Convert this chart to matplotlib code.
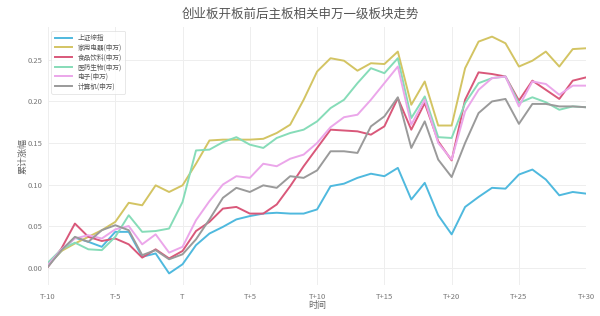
import matplotlib
matplotlib.use("Agg")
import matplotlib.pyplot as plt
import numpy as np

plt.rcParams['font.family'] = ['Noto Sans CJK SC', 'DejaVu Sans']

x_labels = ['T-10', 'T-5', 'T', 'T+5', 'T+10', 'T+15', 'T+20', 'T+25', 'T+30']
days = list(range(-10, 31))

sh_index = [0.003, 0.020, 0.036, 0.031, 0.025, 0.043, 0.043, 0.013, 0.017, -0.007, 0.004,
            0.027, 0.041, 0.049, 0.058, 0.062, 0.065, 0.066, 0.065, 0.065, 0.070,
            0.098, 0.101, 0.108, 0.113, 0.110, 0.120, 0.082, 0.102, 0.063, 0.040,
            0.073, 0.085, 0.096, 0.095, 0.112, 0.118, 0.106, 0.087, 0.091, 0.089]
appliances = [0.003, 0.020, 0.029, 0.037, 0.045, 0.055, 0.078, 0.075, 0.099, 0.091, 0.099,
              0.125, 0.153, 0.154, 0.154, 0.154, 0.155, 0.162, 0.172, 0.202, 0.236,
              0.252, 0.249, 0.237, 0.246, 0.245, 0.260, 0.196, 0.224, 0.171, 0.171,
              0.240, 0.272, 0.278, 0.270, 0.242, 0.249, 0.260, 0.242, 0.263, 0.264]
food = [0.001, 0.023, 0.053, 0.037, 0.032, 0.035, 0.028, 0.012, 0.022, 0.011, 0.020,
        0.044, 0.055, 0.071, 0.073, 0.065, 0.065, 0.076, 0.098, 0.122, 0.144,
        0.166, 0.165, 0.164, 0.160, 0.170, 0.204, 0.166, 0.198, 0.152, 0.129,
        0.202, 0.235, 0.233, 0.230, 0.201, 0.225, 0.214, 0.203, 0.225, 0.229]
pharma = [0.006, 0.022, 0.030, 0.022, 0.021, 0.037, 0.063, 0.043, 0.044, 0.047, 0.079,
          0.141, 0.142, 0.151, 0.157, 0.148, 0.144, 0.156, 0.162, 0.166, 0.176,
          0.192, 0.202, 0.222, 0.240, 0.234, 0.252, 0.180, 0.206, 0.157, 0.156,
          0.198, 0.222, 0.228, 0.230, 0.198, 0.205, 0.199, 0.190, 0.194, 0.193]
electronics = [0.003, 0.022, 0.035, 0.039, 0.035, 0.046, 0.050, 0.028, 0.040, 0.018, 0.025,
               0.057, 0.080, 0.100, 0.110, 0.108, 0.125, 0.122, 0.131, 0.136, 0.150,
               0.169, 0.181, 0.184, 0.202, 0.222, 0.242, 0.172, 0.202, 0.150, 0.130,
               0.188, 0.214, 0.228, 0.230, 0.194, 0.224, 0.221, 0.208, 0.219, 0.219]
computer = [0.001, 0.021, 0.037, 0.031, 0.045, 0.051, 0.045, 0.015, 0.021, 0.010, 0.016,
            0.034, 0.058, 0.084, 0.096, 0.091, 0.099, 0.096, 0.110, 0.108, 0.117,
            0.140, 0.140, 0.138, 0.170, 0.182, 0.205, 0.144, 0.176, 0.130, 0.109,
            0.150, 0.186, 0.200, 0.203, 0.173, 0.197, 0.197, 0.194, 0.194, 0.193]

series = [
    ('上证综指', sh_index, '#4fb9de'),
    ('家用电器(申万)', appliances, '#d3c463'),
    ('食品饮料(申万)', food, '#d9587a'),
    ('医药生物(申万)', pharma, '#86dcb8'),
    ('电子(申万)', electronics, '#eba6ea'),
    ('计算机(申万)', computer, '#9a9a9a'),
]

fig = plt.figure(figsize=(6.0, 3.16), dpi=100)
ax = fig.add_axes([0.08, 0.098, 0.897, 0.815])

for name, vals, col in series:
    ax.plot(days, vals, color=col, lw=1.4, label=name)

ax.set_xlim(-10, 30)
ax.set_ylim(-0.021, 0.289)
ax.set_xticks(list(range(-10, 31, 5)))
ax.set_xticklabels(x_labels)
ax.set_yticks([0, 0.05, 0.10, 0.15, 0.20, 0.25])
ax.set_yticklabels(['0.00', '0.05', '0.10', '0.15', '0.20', '0.25'])
ax.tick_params(axis='x', length=0, labelsize=5.5, labelcolor='#777777', pad=6)
ax.tick_params(axis='y', length=0, labelsize=5.5, labelcolor='#777777', pad=4)
ax.grid(True, color='#eeeeee', lw=0.7)
ax.set_axisbelow(True)
for s in ax.spines.values():
    s.set_visible(False)

ax.set_xlabel('时间', fontsize=6.5, color='#666666', labelpad=0)
ax.set_ylabel('累计涨幅', fontsize=6.5, color='#666666', labelpad=0)
fig.suptitle('创业板开板前后主板相关申万一级板块走势', fontsize=9, color='#555555', y=0.975)

leg = ax.legend(loc='upper left', fontsize=4.8, frameon=True, handlelength=2.6,
                borderpad=0.5, labelspacing=0.25, bbox_to_anchor=(0.0, 1.0))
leg.get_frame().set_edgecolor('#dddddd')
leg.get_frame().set_linewidth(0.6)
for t in leg.get_texts():
    t.set_color('#555555')

fig.savefig('out.png', dpi=100)
